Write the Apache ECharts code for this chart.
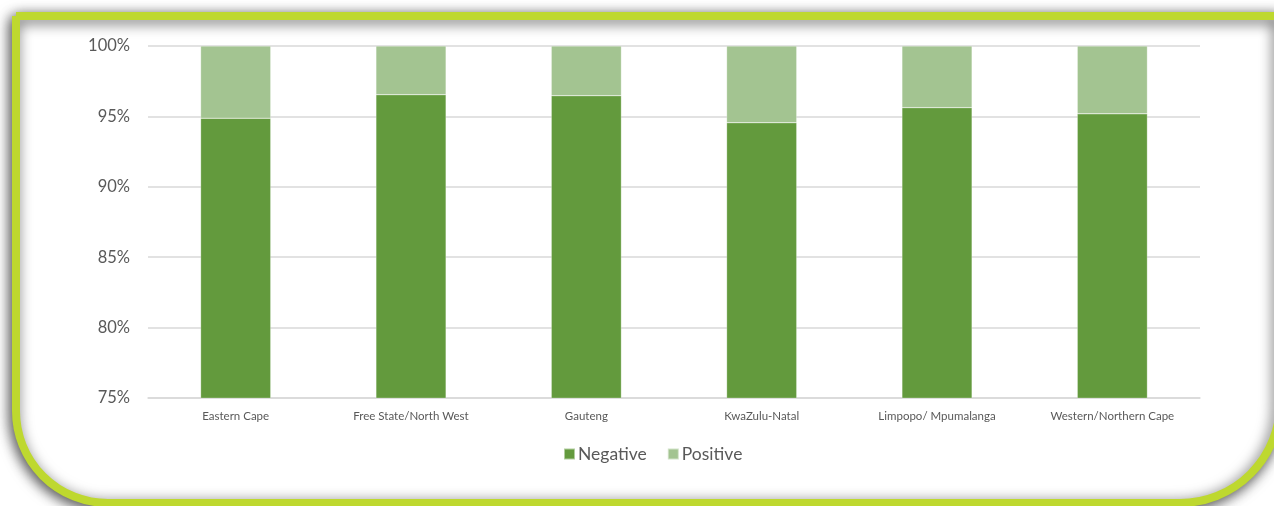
<!DOCTYPE html>
<html>
<head>
<meta charset="utf-8">
<script src="https://cdn.jsdelivr.net/npm/echarts@6/dist/echarts.min.js"></script>
<style>
html,body{margin:0;padding:0;background:#fff;}
#chart{width:1274px;height:506px;}
</style>
</head>
<body>
<div id="chart"></div>
<script>
const categories = ['Eastern Cape','Free State/North West','Gauteng','KwaZulu-Natal','Limpopo/ Mpumalanga','Western/Northern Cape'];
const negative = [94.87, 96.54, 96.47, 94.55, 95.62, 95.18];
const positive = [5.13, 3.46, 3.53, 5.45, 4.38, 4.82];
const yTicks = { min: 75, max: 100, interval: 5 };

const chart = echarts.init(document.getElementById('chart'), null, {renderer:'canvas'});
const font = 'Lato, "Open Sans", sans-serif';
chart.setOption({
  backgroundColor: '#ffffff',
  animation: false,
  graphic: [{
    type: 'rect',
    z: -10,
    silent: true,
    shape: { x: 16, y: 16, width: 1264, height: 487, r: [0, 0, 100, 92] },
    style: {
      fill: '#ffffff',
      stroke: '#BED82F',
      lineWidth: 8,
      shadowBlur: 14,
      shadowColor: 'rgba(0,0,0,0.65)',
      shadowOffsetX: -2,
      shadowOffsetY: 3
    }
  }],
  grid: { left: 148, right: 74, top: 46, bottom: 108, containLabel: false },
  legend: {
    data: ['Negative','Positive'],
    left: 558,
    top: 440,
    itemWidth: 11,
    itemHeight: 11,
    itemGap: 20,
    icon: 'rect',
    textStyle: { color: '#595959', fontSize: 17.5, fontFamily: font, padding: [0, 0, 0, -2] }
  },
  xAxis: {
    type: 'category',
    data: categories,
    axisLine: { show: true, lineStyle: { color: '#d9d9d9', width: 1.5 } },
    axisTick: { show: false },
    axisLabel: { color: '#595959', fontSize: 11.5, fontFamily: font, margin: 12, interval: 0 }
  },
  yAxis: {
    type: 'value',
    min: yTicks.min,
    max: yTicks.max,
    interval: yTicks.interval,
    axisLine: { show: false },
    axisTick: { show: false },
    axisLabel: { formatter: '{value}%', color: '#595959', fontSize: 16.5, fontFamily: font, margin: 18 },
    splitLine: { lineStyle: { color: '#d9d9d9', width: 1.5 } }
  },
  series: [
    {
      name: 'Negative', type: 'bar', stack: 'total', data: negative,
      barWidth: '40%',
      itemStyle: { color: '#639A3D', borderColor: 'rgba(255,255,255,0.5)', borderWidth: 0.5 }
    },
    {
      name: 'Positive', type: 'bar', stack: 'total', data: positive,
      barWidth: '40%',
      itemStyle: { color: '#A3C491', borderColor: 'rgba(255,255,255,0.5)', borderWidth: 0.5 }
    }
  ]
});
</script>
</body>
</html>
